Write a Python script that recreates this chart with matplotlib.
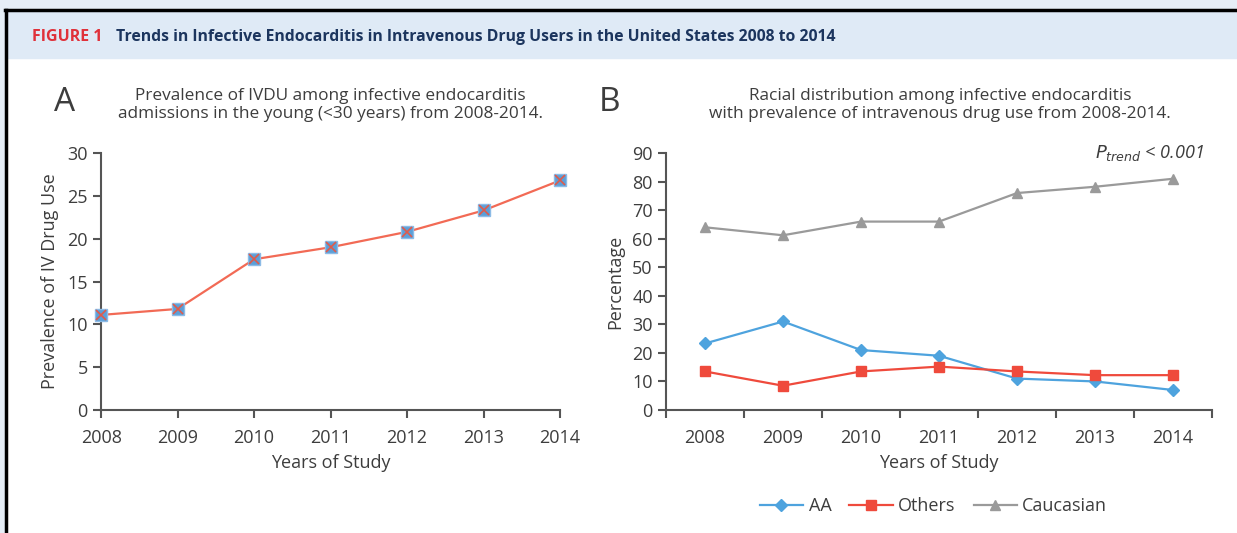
import numpy as np
import matplotlib
matplotlib.use("Agg")
from matplotlib import pyplot as plt
from matplotlib.patches import Rectangle
from matplotlib.lines import Line2D

years = ["2008", "2009", "2010", "2011", "2012", "2013", "2014"]

# panel A: prevalence of IV drug use in the young
ivdu_prev = [11.1, 11.8, 17.6, 19.0, 20.8, 23.3, 26.8]

# panel B: racial distribution (percent)
aa = [23.3, 31.0, 21.0, 19.0, 11.0, 10.0, 7.0]
others = [13.5, 8.5, 13.5, 15.2, 13.5, 12.2, 12.2]
caucasian = [64.0, 61.2, 66.0, 66.0, 76.0, 78.2, 81.0]

plt.rcParams['font.family'] = ['Open Sans', 'DejaVu Sans']

txt = "#3d3d3d"
ax_col = "#555555"

fig = plt.figure(figsize=(12.37, 5.33), dpi=100)
fig.patch.set_facecolor("white")

# outer frame and header band
fig.add_artist(Rectangle((0, 0.983), 1, 0.017, transform=fig.transFigure, color="#e6eef7", zorder=0))
fig.add_artist(Rectangle((0, 0), 0.004, 1, transform=fig.transFigure, color="#e6eef7", zorder=0))
fig.add_artist(Rectangle((0.004, 0.892), 0.996, 0.087, transform=fig.transFigure, color="#dfeaf6", zorder=0))
fig.add_artist(Line2D([0.004, 1], [0.981, 0.981], transform=fig.transFigure, color="black", lw=2.5))
fig.add_artist(Line2D([0.005, 0.005], [0, 0.981], transform=fig.transFigure, color="black", lw=2.5))

fig.text(0.026, 0.930, "FIGURE 1", color="#e0313a", fontsize=11.5, fontweight="bold", va="center")
fig.text(0.094, 0.930, "Trends in Infective Endocarditis in Intravenous Drug Users in the United States 2008 to 2014",
         color="#1c355e", fontsize=11.3, fontweight="bold", va="center")


def style_axes(ax):
    for s in ["top", "right"]:
        ax.spines[s].set_visible(False)
    for s in ["left", "bottom"]:
        ax.spines[s].set_color(ax_col)
        ax.spines[s].set_linewidth(1.5)
    ax.tick_params(colors=ax_col, labelcolor=txt, labelsize=13, width=1.5, length=6)


# ---- panel A ----
axA = fig.add_axes([0.0817, 0.2308, 0.371, 0.482])
x = np.arange(len(years))
axA.plot(x, ivdu_prev, color="#f26a55", lw=1.6, zorder=2, clip_on=False)
axA.plot(x, ivdu_prev, ls="none", marker="s", ms=9, mfc="#5b9fd8", mec="#8cbbe6", zorder=3, clip_on=False)
axA.plot(x, ivdu_prev, ls="none", marker="x", ms=7.5, mec="#e05a4a", mew=1.2, zorder=4, clip_on=False)
axA.set_xlim(0, 6)
axA.set_ylim(0, 30)
axA.set_xticks(x)
axA.set_xticklabels(years)
axA.set_yticks(range(0, 31, 5))
style_axes(axA)
axA.tick_params(axis="x", pad=8)
axA.set_xlabel("Years of Study", fontsize=13, color=txt, labelpad=5)
axA.set_ylabel("Prevalence of IV Drug Use", fontsize=13, color=txt, labelpad=6)

fig.text(0.044, 0.808, "A", fontsize=24, color=txt, va="center")
fig.text(0.267, 0.803, "Prevalence of IVDU among infective endocarditis\nadmissions in the young (<30 years) from 2008-2014.",
         fontsize=12.4, color=txt, ha="center", va="center", linespacing=1.2)

# ---- panel B ----
axB = fig.add_axes([0.5384, 0.2308, 0.4414, 0.482])
axB.plot(x, aa, color="#4ea3de", lw=1.6, marker="D", ms=6.5, label="AA")
axB.plot(x, others, color="#ef4a3c", lw=1.6, marker="s", ms=7.5, label="Others")
axB.plot(x, caucasian, color="#9a9a9a", lw=1.6, marker="^", ms=7.5, label="Caucasian")
axB.set_xlim(-0.5, 6.5)
axB.set_ylim(0, 90)
axB.set_yticks(range(0, 91, 10))
axB.set_xticks(np.arange(-0.5, 7, 1))
axB.set_xticklabels([])
axB.set_xticks(x, minor=True)
axB.set_xticklabels(years, minor=True)
style_axes(axB)
axB.tick_params(axis="x", which="minor", length=0, pad=14, labelsize=13, labelcolor=txt)
axB.set_xlabel("Years of Study", fontsize=13, color=txt, labelpad=5)
axB.set_ylabel("Percentage", fontsize=13, color=txt, labelpad=6)
axB.text(0.985, 1.0, r"$P_{trend}$ < 0.001", transform=axB.transAxes, ha="right", va="center",
         fontsize=13, color=txt, style="italic")
leg = axB.legend(loc="upper center", bbox_to_anchor=(0.49, -0.275), ncol=3, frameon=False,
                 fontsize=13, handlelength=2.4, handletextpad=0.3, columnspacing=1.0)
for t in leg.get_texts():
    t.set_color(txt)

fig.text(0.484, 0.808, "B", fontsize=24, color=txt, va="center")
fig.text(0.760, 0.803, "Racial distribution among infective endocarditis\nwith prevalence of intravenous drug use from 2008-2014.",
         fontsize=12.4, color=txt, ha="center", va="center", linespacing=1.2)

fig.savefig("out.png", dpi=100)
